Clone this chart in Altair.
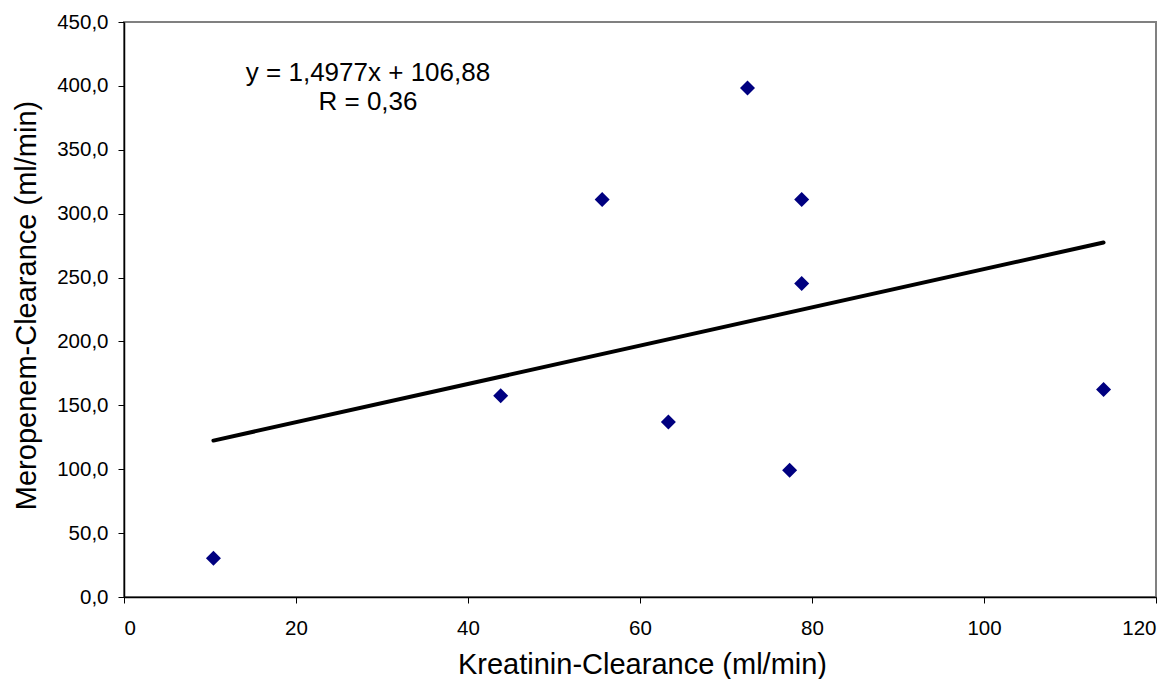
import altair as alt
import pandas as pd

kreatinin = [10.4, 43.8, 55.6, 63.3, 72.5, 77.4, 78.8, 78.8, 113.9]
meropenem = [30.3, 157.5, 311.0, 137.0, 398.3, 99.1, 311.0, 245.4, 162.3]
annotation_lines = ["y = 1,4977x + 106,88", "R = 0,36"]

df = pd.DataFrame({"x": kreatinin, "y": meropenem})

FONT = "Liberation Sans"

x_enc = alt.X(
    "x:Q",
    scale=alt.Scale(domain=[0, 120], nice=False, zero=True),
    axis=alt.Axis(
        title="Kreatinin-Clearance (ml/min)",
        values=[0, 20, 40, 60, 80, 100, 120],
        format="d",
        grid=False,
        domainColor="black",
        domainWidth=1.5,
        tickColor="black",
        tickSize=6,
        tickWidth=1,
        labelFontSize=20.5,
        labelFont=FONT,
        labelColor="black",
        labelBaseline="alphabetic",
        labelPadding=31,
        titleFont=FONT,
        titleFontSize=29,
        titleFontWeight="normal",
        titleColor="black",
        titleBaseline="alphabetic",
        titleX=518,
        titleY=76,
        titleAnchor="middle",
    ),
)
y_enc = alt.Y(
    "y:Q",
    scale=alt.Scale(domain=[0, 450], nice=False, zero=True),
    axis=alt.Axis(
        title="Meropenem-Clearance (ml/min)",
        values=[0, 50, 100, 150, 200, 250, 300, 350, 400, 450],
        labelExpr="replace(format(datum.value, '.1f'), '.', ',')",
        grid=False,
        domainColor="black",
        domainWidth=1.5,
        tickColor="black",
        tickSize=6,
        tickWidth=1,
        labelFontSize=20.5,
        labelFont=FONT,
        labelColor="black",
        labelPadding=10,
        titleFont=FONT,
        titleFontSize=29,
        titleFontWeight="normal",
        titleColor="black",
        titleAngle=-90,
        titleAlign="center",
        titleBaseline="alphabetic",
        titleX=-89,
        titleY=283,
    ),
)

base = alt.Chart(df)

points = base.mark_point(
    shape="diamond", filled=True, color="#000080", size=225, opacity=1
).encode(x=x_enc, y=y_enc)

trend = base.transform_regression("x", "y").mark_line(
    color="black", strokeWidth=4, strokeCap="round"
).encode(x="x:Q", y="y:Q")

txt_df = pd.DataFrame({"t": annotation_lines, "row": [0, 1]})
text1 = alt.Chart(txt_df).transform_filter("datum.row == 0").mark_text(
    font=FONT, fontSize=26, color="black", align="center", baseline="alphabetic"
).encode(text="t:N", x=alt.value(244), y=alt.value(58.7))
text2 = alt.Chart(txt_df).transform_filter("datum.row == 1").mark_text(
    font=FONT, fontSize=26, color="black", align="center", baseline="alphabetic"
).encode(text="t:N", x=alt.value(244), y=alt.value(88))

chart = (
    alt.layer(trend, points, text1, text2)
    .properties(
        width=1032,
        height=575,
        autosize=alt.AutoSizeParams(type="none"),
        padding={"left": 124, "top": 22, "right": 20, "bottom": 82},
        background="white",
    )
    .configure_view(stroke="#808080", strokeWidth=2)
)

chart.save("out.html", embed_options={"renderer": "svg", "actions": False})
